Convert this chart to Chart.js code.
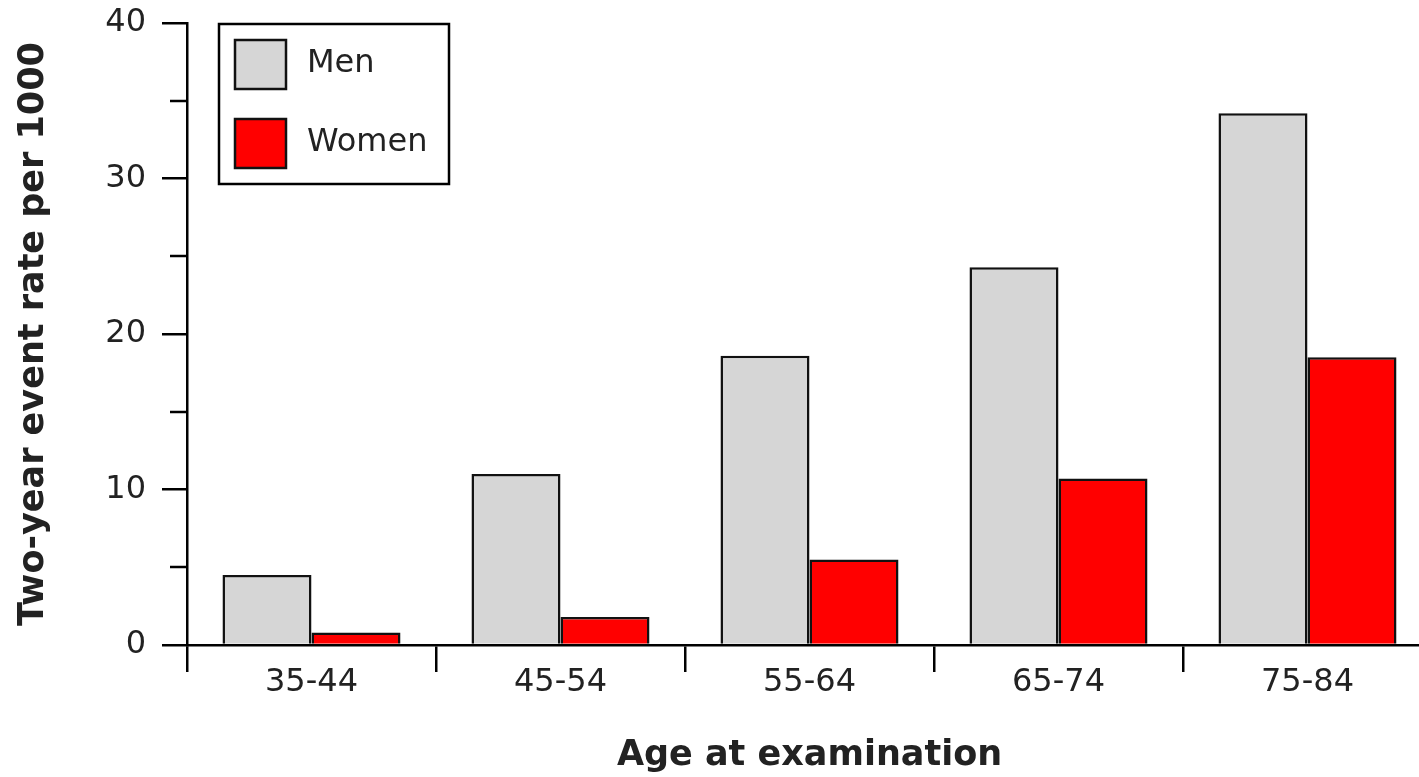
<!DOCTYPE html>
<html>
<head>
<meta charset="utf-8">
<title>Two-year event rate per 1000</title>
<script src="https://cdn.jsdelivr.net/npm/chart.js@4"></script>
<style>
    html, body { margin: 0; padding: 0; background: #fff; overflow: hidden; }
    #rates { display: block; }
</style>
</head>
<body>
<canvas id="rates" width="1440" height="777"></canvas>
<script>
// data
var ageGroups = ['35-44', '45-54', '55-64', '65-74', '75-84'];
var menRates = [4.5, 11.0, 18.6, 24.3, 34.2];
var womenRates = [0.8, 1.8, 5.5, 10.7, 18.5];
var yTicks = [0, 10, 20, 30, 40];

var textColor = '#222';

// short ticks halfway between the labelled ones
var minorTicks = {
    id: 'minorTicks',
    afterDraw: function(chart) {
        var scale = chart.scales.y
        var c = chart.ctx
        c.save()
        c.strokeStyle = '#000'
        c.lineWidth = 2.5
        for (var i = 0; i < scale.ticks.length - 1; i++) {
            var mid = (scale.ticks[i].value + scale.ticks[i + 1].value) / 2
            var py = Math.round(scale.getPixelForValue(mid))
            c.beginPath()
            c.moveTo(scale.right - 17, py)
            c.lineTo(scale.right, py)
            c.stroke()
        }
        c.restore()
    }
}

// boxed legend in the upper left of the plot
var boxLegend = {
    id: 'boxLegend',
    afterDraw: function(chart) {
        var area = chart.chartArea
        var c = chart.ctx
        var x0 = area.left + 32
        var y0 = area.top + 1
        c.save()
        c.fillStyle = '#fff'
        c.fillRect(x0, y0, 230, 160)
        c.strokeStyle = '#000'
        c.lineWidth = 2.5
        c.strokeRect(x0, y0, 230, 160)
        chart.data.datasets.forEach(function(ds, i) {
            var sy = y0 + 16 + i * 79
            c.fillStyle = ds.backgroundColor
            c.fillRect(x0 + 16, sy, 51, 49)
            c.strokeStyle = '#111'
            c.lineWidth = 2.5
            c.strokeRect(x0 + 16, sy, 51, 49)
            c.fillStyle = textColor
            c.font = '32px "DejaVu Sans"'
            c.textBaseline = 'middle'
            c.textAlign = 'left'
            c.fillText(ds.label, x0 + 88, sy + 24)
        })
        c.restore()
    }
}

var ctx = document.getElementById('rates');
var rates = new Chart(ctx, {
    type: 'bar',
    data: {
        labels: ageGroups,
        datasets: [{
            label: 'Men',
            data: menRates,
            backgroundColor: '#d6d6d6',
            borderColor: '#111',
            borderWidth: 2.5
        }, {
            label: 'Women',
            data: womenRates,
            backgroundColor: '#ff0000',
            borderColor: '#111',
            borderWidth: 2.5
        }]
    },
    options: {
        responsive: false,
        animation: false,
        layout: {
            padding: { top: 23, right: 8, bottom: 0, left: 0 }
        },
        datasets: {
            bar: {
                categoryPercentage: 0.715,
                barPercentage: 1.0
            }
        },
        plugins: {
            legend: { display: false },
            tooltip: { enabled: false }
        },
        scales: {
            x: {
                afterFit: function(scale) {
                    scale.height = 132
                    scale.paddingLeft = 0
                    scale.paddingRight = 0
                },
                border: { color: '#000', width: 2.5 },
                grid: {
                    offset: true,
                    drawOnChartArea: false,
                    color: '#000',
                    lineWidth: 2.5,
                    tickLength: 27
                },
                ticks: {
                    color: textColor,
                    padding: -9,
                    font: { family: 'DejaVu Sans', size: 32 }
                },
                title: {
                    display: true,
                    text: 'Age at examination',
                    color: textColor,
                    padding: { top: 0, bottom: 0 },
                    font: { family: 'DejaVu Sans', size: 35, weight: 'bold' }
                }
            },
            y: {
                min: yTicks[0],
                max: yTicks[yTicks.length - 1],
                afterFit: function(scale) {
                    scale.width = 187
                    scale.paddingTop = 0
                    scale.paddingBottom = 0
                },
                afterBuildTicks: function(scale) {
                    scale.ticks = yTicks.map(function(v) { return { value: v } })
                },
                border: { color: '#000', width: 2.5 },
                grid: {
                    drawOnChartArea: false,
                    color: '#000',
                    lineWidth: 2.5,
                    tickLength: 25
                },
                ticks: {
                    color: textColor,
                    padding: 16,
                    font: { family: 'DejaVu Sans', size: 32 }
                },
                title: {
                    display: true,
                    text: 'Two-year event rate per 1000',
                    color: textColor,
                    padding: { top: 13, bottom: 0 },
                    font: { family: 'DejaVu Sans', size: 35, weight: 'bold' }
                }
            }
        }
    },
    plugins: [minorTicks, boxLegend]
});
</script>
</body>
</html>
